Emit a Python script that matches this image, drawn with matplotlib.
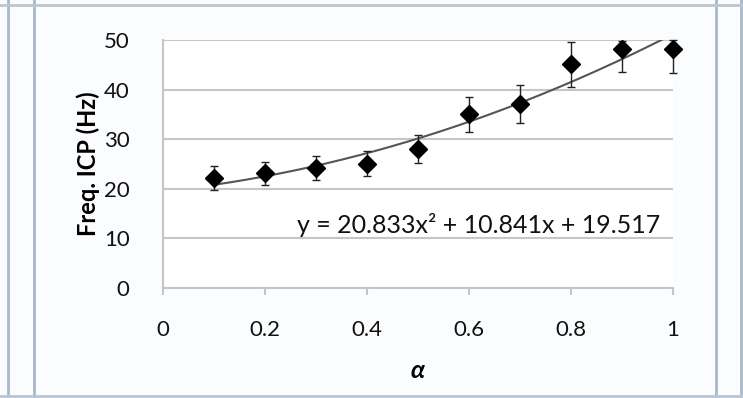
import matplotlib.pyplot as plt
from matplotlib.lines import Line2D
import numpy as np

plt.rcParams['font.family'] = ['Lato', 'DejaVu Sans']

alpha = [0.1, 0.2, 0.3, 0.4, 0.5, 0.6, 0.7, 0.8, 0.9, 1.0]
freq = [22.1, 23.1, 24.2, 25.1, 28.1, 35.0, 37.1, 45.1, 48.1, 48.1]
err_low = [2.4, 2.4, 2.4, 2.5, 2.8, 3.5, 3.8, 4.5, 4.6, 4.8]
err_high = [2.4, 2.4, 2.4, 2.5, 2.8, 3.5, 3.8, 4.5, 1.6, 1.8]
trend = [20.833, 10.841, 19.517]
y_ticks = [0, 10, 20, 30, 40, 50]
x_ticks = [0, 0.2, 0.4, 0.6, 0.8, 1]

fig = plt.figure(figsize=(7.43, 3.98), dpi=100)
fig.patch.set_facecolor('#fafcfe')

# window frame lines
for x in [8 / 743, 34 / 743, 716 / 743, 741 / 743]:
    fig.add_artist(Line2D([x, x], [0, 1], color='#a9b7c6', lw=2))
fig.add_artist(Line2D([0, 1], [1 - 5 / 398, 1 - 5 / 398], color='#b9c6d3', lw=2))
fig.add_artist(Line2D([0, 1], [2 / 398, 2 / 398], color='#b9c6d3', lw=2))

ax = fig.add_axes([163 / 743, 1 - 288 / 398, 510 / 743, 248 / 398])
ax.set_facecolor('white')

xs = np.linspace(alpha[0], 1.0, 200)
ax.plot(xs, np.polyval(trend, xs), color='#555555', lw=1.5, zorder=2)

eb = ax.errorbar(alpha, freq, yerr=[err_low, err_high], fmt='D', color='black', ms=9,
                 ecolor='#222222', elinewidth=1, capsize=3, capthick=1, zorder=3)
for art in [eb[0], *eb[1], *eb[2]]:
    art.set_clip_on(False)

ax.set_xlim(0, 1)
ax.set_ylim(0, 50)
ax.set_yticks(y_ticks)
ax.set_xticks(x_ticks)
ax.set_xticklabels(['0', '0.2', '0.4', '0.6', '0.8', '1'])
ax.grid(axis='y', color='#c6c6c6', lw=1.5)
ax.set_axisbelow(True)
for s in ['top', 'right']:
    ax.spines[s].set_visible(False)
ax.spines['left'].set_color('#c6c6c6')
ax.spines['bottom'].set_color('#c6c6c6')
ax.spines['left'].set_linewidth(1.5)
ax.spines['bottom'].set_linewidth(1.5)
ax.tick_params(axis='y', length=0, pad=24, labelsize=16, labelcolor='#111111')
ax.tick_params(axis='x', length=5, width=1.5, color='#c6c6c6', pad=18,
               labelsize=16, labelcolor='#111111')

ax.set_ylabel('Freq. ICP (Hz)', fontsize=17, fontweight='bold', labelpad=3)
ax.set_xlabel('α', fontsize=18, fontweight='bold', style='italic', labelpad=14)

ax.text(0.975, 0.255, 'y = 20.833x² + 10.841x + 19.517', transform=ax.transAxes,
        ha='right', va='center', fontsize=18, color='#111111')

fig.savefig('out.png', dpi=100, facecolor=fig.get_facecolor())
